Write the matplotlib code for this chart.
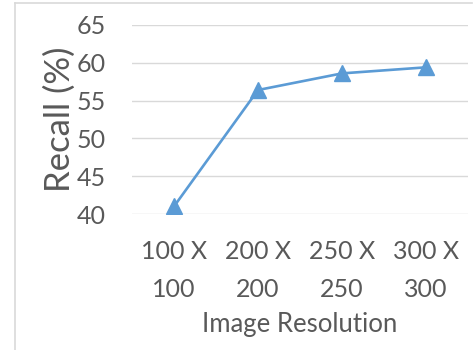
import matplotlib.pyplot as plt
from matplotlib.lines import Line2D

plt.rcParams['font.family'] = ['Lato', 'DejaVu Sans']

categories = ['100 X\n100', '200 X\n200', '250 X\n250', '300 X\n300']
recall = [41.0, 56.4, 58.6, 59.4]
yticks = [40, 45, 50, 55, 60, 65]

txt = '#595959'
fig = plt.figure(figsize=(4.76, 3.5), dpi=100)
ax = fig.add_axes([132/476, 1 - 214/350, 336/476, 189/350])

x = range(len(categories))
ax.plot(x, recall, color='#5B9BD5', lw=1.9, marker='^', markersize=11,
        markeredgecolor='#5B9BD5', zorder=3)

ax.set_xlim(-0.5, 3.5)
ax.set_ylim(40, 65)
ax.set_yticks(yticks)
ax.set_xticks(list(x))
ax.set_xticklabels(categories, linespacing=1.75)
ax.grid(axis='y', color='#D9D9D9', lw=1)
ax.set_axisbelow(True)
for s in ax.spines.values():
    s.set_visible(False)
ax.tick_params(length=0, labelsize=18, colors=txt)
ax.tick_params(axis='y', pad=19)
ax.tick_params(axis='x', pad=19)
ax.set_ylabel('Recall (%)', fontsize=25, color=txt, labelpad=0)
ax.set_xlabel('Image Resolution', fontsize=18.5, color=txt, labelpad=8)

# chart frame (left and top edges visible)
fig.add_artist(Line2D([14.5/476, 14.5/476], [0, 1 - 3/350], color='#D9D9D9', lw=1.2,
                      transform=fig.transFigure))
fig.add_artist(Line2D([14.5/476, 472/476], [1 - 3/350, 1 - 3/350], color='#D9D9D9', lw=1.2,
                      transform=fig.transFigure))

fig.savefig('out.png', dpi=100)
